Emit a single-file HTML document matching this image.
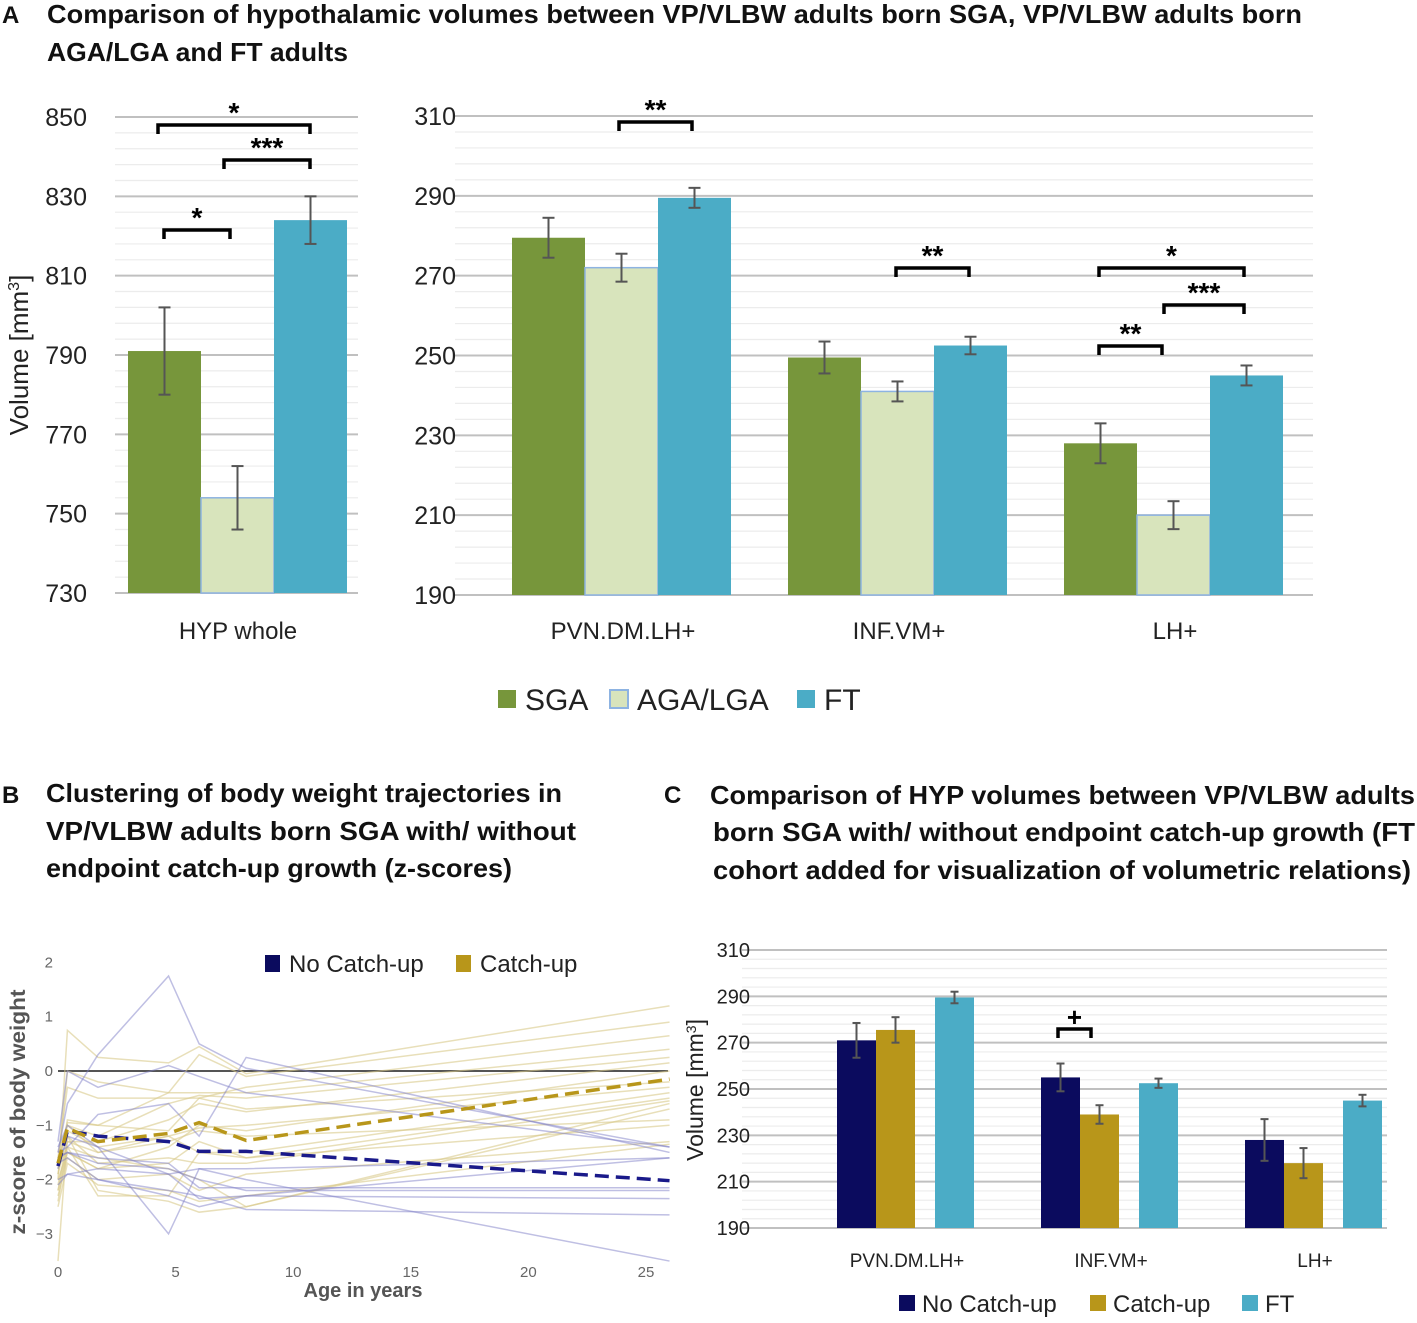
<!DOCTYPE html>
<html><head><meta charset="utf-8"><style>
body{margin:0;background:#fff}
svg{display:block;font-family:"Liberation Sans",sans-serif}
</style></head><body>
<svg id="fig" width="1417" height="1323" viewBox="0 0 1417 1323" xmlns="http://www.w3.org/2000/svg">
<g font-weight="bold" font-size="26" fill="#111" lengthAdjust="spacingAndGlyphs">
<text x="2" y="23" font-size="24">A</text>
<text x="47" y="23" textLength="1255" lengthAdjust="spacingAndGlyphs">Comparison of hypothalamic volumes between VP/VLBW adults born SGA, VP/VLBW adults born</text>
<text x="47" y="61" textLength="301" lengthAdjust="spacingAndGlyphs">AGA/LGA and FT adults</text>
<text x="2" y="803" font-size="24">B</text>
<text x="46" y="802" textLength="516" lengthAdjust="spacingAndGlyphs">Clustering of body weight trajectories in</text>
<text x="46" y="840" textLength="530" lengthAdjust="spacingAndGlyphs">VP/VLBW adults born SGA with/ without</text>
<text x="46" y="877" textLength="466" lengthAdjust="spacingAndGlyphs">endpoint catch-up growth (z-scores)</text>
<text x="664" y="803" font-size="24">C</text>
<text x="710" y="804" textLength="705" lengthAdjust="spacingAndGlyphs">Comparison of HYP volumes between VP/VLBW adults</text>
<text x="713" y="841" textLength="702" lengthAdjust="spacingAndGlyphs">born SGA with/ without endpoint catch-up growth (FT</text>
<text x="713" y="879" textLength="698" lengthAdjust="spacingAndGlyphs">cohort added for visualization of volumetric relations)</text>
</g>
<g id="A"></g><g id="B"></g><g id="C"></g>
</svg>
<script>
// ---- Panel A data ----
const aCatsLeft = ["HYP whole"];
const aCatsRight = ["PVN.DM.LH+","INF.VM+","LH+"];
const aSeries = ["SGA","AGA/LGA","FT"];
const aLeftVals = [791, 754, 824];
const aLeftErr = [11, 8, 6];
const aRightSGA = [279.5, 249.5, 228];
const aRightAGA = [272, 241, 210];
const aRightFT = [289.5, 252.5, 245];
const aRightErrSGA = [5, 4, 5];
const aRightErrAGA = [3.5, 2.5, 3.5];
const aRightErrFT = [2.5, 2.2, 2.5];
const aLeftTicks = [730,750,770,790,810,830,850];
const aRightTicks = [190,210,230,250,270,290,310];
// ---- Panel B data ----
const bTimes = [0,0.4,1.7,4.7,6,8,26];
const bMeanNoCatch = [-1.75,-1.1,-1.2,-1.3,-1.48,-1.48,-2.02];
const bMeanCatch = [-1.7,-1.05,-1.3,-1.15,-0.95,-1.28,-0.15];
const bIndivNoCatch = [
 [-1.5,-0.6,0.3,1.75,0.5,0.05,-1.4],
 [-1.3,0,-0.3,0.1,-0.1,-0.4,-1.4],
 [-1.4,-1.0,-1.4,-3.0,-1.8,-2.0,-3.5],
 [-2.0,-1.9,-1.8,-1.9,-1.8,-1.8,-1.6],
 [-1.7,-1.6,-2.0,-2.3,-2.5,-2.3,-1.6],
 [-1.5,-1.4,-0.8,-0.6,-1.2,0.25,-1.5],
 [-1.6,-1.5,-1.6,-1.7,-2.15,-2.15,-2.15],
 [-1.8,-1.2,-1.4,-1.9,-2.35,-2.3,-2.35],
 [-2.1,-1.9,-2.0,-2.2,-2.3,-2.55,-2.65],
 [-1.6,-1.5,-1.7,-1.8,-2.0,-2.2,-2.2]];
const bIndivCatch = [
 [-2.0,0.75,0.25,0.15,0.45,-0.05,1.2],
 [-1.8,0,-0.2,-0.4,0.3,-0.1,0.9],
 [-1.6,-0.3,-0.5,-0.5,-0.5,-0.3,0.65],
 [-1.9,-0.9,-1.0,-0.4,-0.4,-0.4,0.4],
 [-1.5,-1.0,-1.2,-0.6,-0.45,-0.5,0.25],
 [-2.2,-1.3,-1.3,-0.9,-0.6,-0.75,0.15],
 [-1.7,-1.0,-1.5,-1.2,-1.05,-1.0,-0.3],
 [-2.4,-1.4,-2.3,-2.3,-1.5,-1.5,-0.4],
 [-2.0,-1.5,-1.8,-1.7,-1.3,-1.6,-0.5],
 [-3.5,-1.2,-2.2,-2.4,-2.6,-2.5,-0.6],
 [-1.8,-1.4,-1.6,-1.8,-2.0,-2.5,-0.7],
 [-2.1,-1.3,-1.5,-1.3,-1.1,-1.2,-0.9],
 [-1.6,-1.1,-1.4,-1.2,-1.5,-1.6,-1.0],
 [-2.3,-1.6,-2.0,-1.9,-2.2,-1.9,-1.3],
 [-1.9,-1.2,-1.7,-1.6,-1.7,-1.7,-0.55],
 [-2.5,-1.7,-2.1,-2.2,-2.4,-2.3,-1.35],
 [-1.7,-0.95,-1.0,-1.1,-0.5,-0.7,-0.2],
 [-2.2,-1.5,-1.8,-1.4,-1.0,-1.1,0]];
const bXTicks = [0,5,10,15,20,25];
const bYTicks = [-3,-2,-1,0,1,2];
// ---- Panel C data ----
const cCats = ["PVN.DM.LH+","INF.VM+","LH+"];
const cNoCatch = [271, 255, 228];
const cCatch = [275.5, 239, 218];
const cFT = [289.5, 252.5, 245];
const cErrNoCatch = [7.5, 6, 9];
const cErrCatch = [5.5, 4, 6.5];
const cErrFT = [2.5, 2, 2.5];
const cTicks = [190,210,230,250,270,290,310];

const NS="http://www.w3.org/2000/svg";
function mk(parent,tag,attrs,text){const e=document.createElementNS(NS,tag);for(const k in attrs)e.setAttribute(k,attrs[k]);if(text!==undefined)e.textContent=text;parent.appendChild(e);return e;}
const C_SGA="#77963b",C_AGA="#d8e4bc",C_FT="#4bacc6",C_NAVY="#0b0b5e",C_GOLD="#b8961a";

function grid(g,x0,x1,ys,vmin,vmax,step,minor){
  for(let v=vmin;v<=vmax+0.001;v+=minor){
    const major=Math.abs((v-vmin)%step)<0.01;
    const l=mk(g,'line',{x1:x0,x2:x1,y1:ys(v),y2:ys(v),stroke:major?'#c0c0c0':'#ececec','stroke-width':major?2:1.2});
    
    
  }
}
function bar(g,x,w,v,ys,base,fill,name,stroke){
  const r=mk(g,'rect',{x:x,y:ys(v),width:w,height:ys(base)-ys(v),fill:fill});
  if(stroke){r.setAttribute('stroke',stroke);r.setAttribute('stroke-width',1.5);}
  
  
}
function err(g,cx,v,e,ys,cap){
  const eg=mk(g,'g',{stroke:'#555','stroke-width':2});
  
  
  mk(eg,'line',{x1:cx,x2:cx,y1:ys(v+e),y2:ys(v-e)});
  mk(eg,'line',{x1:cx-cap,x2:cx+cap,y1:ys(v+e),y2:ys(v+e)});
  mk(eg,'line',{x1:cx-cap,x2:cx+cap,y1:ys(v-e),y2:ys(v-e)});
}
function bracket(g,x1,x2,y,label,fs){
  const b=mk(g,'path',{d:`M${x1},${y+9}V${y}H${x2}V${y+9}`,fill:'none',stroke:'#000','stroke-width':3.5});
  
  
  const t=mk(g,'text',{x:(x1+x2)/2,y:y-3,'text-anchor':'middle','font-size':fs||28,'font-weight':'bold'},label);
  
  
}

// ===== Panel A =====
const A=document.getElementById('A');
const ysL=v=>117+(850-v)*(476/120);
const ysR=v=>116+(310-v)*(479/120);
grid(A,115,358,ysL,730,850,20,4);
grid(A,455,1313,ysR,190,310,20,4);
aLeftTicks.forEach(t=>{const e=mk(A,'text',{x:87,y:ysL(t)+9,'text-anchor':'end','font-size':25,fill:'#222'},t);});
aRightTicks.forEach(t=>{const e=mk(A,'text',{x:456,y:ysR(t)+9,'text-anchor':'end','font-size':25,fill:'#222'},t);});
{const e=mk(A,'text',{transform:'translate(28,355) rotate(-90)','text-anchor':'middle','font-size':26,fill:'#222'});e.innerHTML='Volume [mm<tspan dy="-9" font-size="16">3</tspan><tspan dy="9">]</tspan>';}
const aCols=[C_SGA,C_AGA,C_FT];
const bw=73;
aLeftVals.forEach((v,i)=>{const x=128+i*bw;bar(A,x,bw,v,ysL,730,aCols[i],'bar-hyp-'+aSeries[i].toLowerCase().replace('/','-'),i==1?'#8db3e2':null);err(A,x+bw/2,v,aLeftErr[i],ysL,6);});
{const e=mk(A,'text',{x:238,y:639,'text-anchor':'middle','font-size':24,fill:'#222'},aCatsLeft[0]);}
aCatsRight.forEach((c,k)=>{
  const cx=623+k*276, x0=cx-111;
  [aRightSGA,aRightAGA,aRightFT].forEach((arr,i)=>{bar(A,x0+i*bw,bw,arr[k],ysR,190,aCols[i],'bar-'+c.toLowerCase()+'-'+i,i==1?'#8db3e2':null);});
  [[aRightSGA,aRightErrSGA],[aRightAGA,aRightErrAGA],[aRightFT,aRightErrFT]].forEach(([a,e],i)=>err(A,x0+i*bw+bw/2,a[k],e[k],ysR,6));
  const t=mk(A,'text',{x:cx,y:639,'text-anchor':'middle','font-size':24,fill:'#222'},c);
});
bracket(A,158,310,125,'*');bracket(A,224,310,160,'***');bracket(A,164,230,230,'*');
bracket(A,619,692,122,'**');bracket(A,896,969,268,'**');bracket(A,1099,1244,268,'*');bracket(A,1164,1244,305,'***');bracket(A,1099,1162,346,'**');
[[498,'SGA',C_SGA],[610,'AGA/LGA',C_AGA],[797,'FT',C_FT]].forEach(([x,l,c],i)=>{
  const g=mk(A,'g',{});
  mk(g,'rect',{x:x,y:690,width:18,height:18,fill:c,stroke:i==1?'#8db3e2':'none','stroke-width':2});
  mk(g,'text',{x:x+27,y:710,'font-size':30,fill:'#222'},l);
});

// ===== Panel B =====
const B=document.getElementById('B');
const xb=t=>58+t*23.52, yb=z=>1071-z*54.3;
{const cp=mk(B,'clipPath',{id:'bclip'});mk(cp,'rect',{x:50,y:940,width:620,height:322});}
bXTicks.forEach(t=>{const e=mk(B,'text',{x:xb(t),y:1277,'text-anchor':'middle','font-size':15,fill:'#666'},t);});
bYTicks.forEach(t=>{const e=mk(B,'text',{x:53,y:yb(t)+5,'text-anchor':'end','font-size':15,fill:'#666'},t<0?'\u2212'+(-t):t);});
{const z=mk(B,'line',{x1:58,x2:668,y1:yb(0),y2:yb(0),stroke:'#555','stroke-width':2});}
const pts=arr=>arr.map((z,i)=>xb(bTimes[i])+','+yb(z)).join(' ');
const lg=mk(B,'g',{'clip-path':'url(#bclip)'});
bIndivCatch.forEach(a=>{const p=mk(lg,'polyline',{points:pts(a),fill:'none',stroke:'#d9c98a','stroke-opacity':0.6,'stroke-width':1.5});});
bIndivNoCatch.forEach(a=>{const p=mk(lg,'polyline',{points:pts(a),fill:'none',stroke:'#8080c8','stroke-opacity':0.5,'stroke-width':1.5});});
{const p=mk(lg,'polyline',{points:pts(bMeanNoCatch),fill:'none',stroke:'#1a1a8a','stroke-width':3.5,'stroke-dasharray':'14,7'});}
{const p=mk(lg,'polyline',{points:pts(bMeanCatch),fill:'none',stroke:C_GOLD,'stroke-width':3.5,'stroke-dasharray':'14,7'});}
{const e=mk(B,'text',{transform:'translate(25,1112) rotate(-90)','text-anchor':'middle','font-size':21,'font-weight':'bold',fill:'#555',textLength:245,lengthAdjust:'spacingAndGlyphs'},'z-score of body weight');}
{const e=mk(B,'text',{x:363,y:1297,'text-anchor':'middle','font-size':20,'font-weight':'bold',fill:'#555'},'Age in years');}
[[265,'No Catch-up',C_NAVY],[456,'Catch-up',C_GOLD]].forEach(([x,l,c])=>{
  const g=mk(B,'g',{});
  mk(g,'rect',{x:x,y:955,width:15,height:17,fill:c});
  mk(g,'text',{x:x+24,y:972,'font-size':24,fill:'#222'},l);
});

// ===== Panel C =====
const Cg=document.getElementById('C');
const yc=v=>950+(310-v)*(278/120);
grid(Cg,742,1387,yc,190,310,20,4);
cTicks.forEach(t=>{const e=mk(Cg,'text',{x:750,y:yc(t)+7,'text-anchor':'end','font-size':20,fill:'#222'},t);});
{const e=mk(Cg,'text',{transform:'translate(703,1090) rotate(-90)','text-anchor':'middle','font-size':23,fill:'#222'});e.innerHTML='Volume [mm<tspan dy="-7" font-size="14">3</tspan><tspan dy="7">]</tspan>';}
const cbw=39;
cCats.forEach((c,k)=>{
  const x0=837+k*204;
  const xs=[x0,x0+cbw,x0+98];
  const vals=[cNoCatch[k],cCatch[k],cFT[k]], errs=[cErrNoCatch[k],cErrCatch[k],cErrFT[k]], cols=[C_NAVY,C_GOLD,C_FT];
  vals.forEach((v,i)=>{bar(Cg,xs[i],cbw,v,yc,190,cols[i],'bar-c-'+c.toLowerCase()+'-'+i);err(Cg,xs[i]+cbw/2,v,errs[i],yc,4);});
  const t=mk(Cg,'text',{x:x0+70,y:1267,'text-anchor':'middle','font-size':19,fill:'#222'},c);
});
bracket(Cg,1058,1091,1029,'+',26);
[[899,'No Catch-up',C_NAVY],[1090,'Catch-up',C_GOLD],[1242,'FT',C_FT]].forEach(([x,l,c])=>{
  const g=mk(Cg,'g',{});
  mk(g,'rect',{x:x,y:1295,width:16,height:16,fill:c});
  mk(g,'text',{x:x+23,y:1312,'font-size':24,fill:'#222'},l);
});
</script>
</body></html>
